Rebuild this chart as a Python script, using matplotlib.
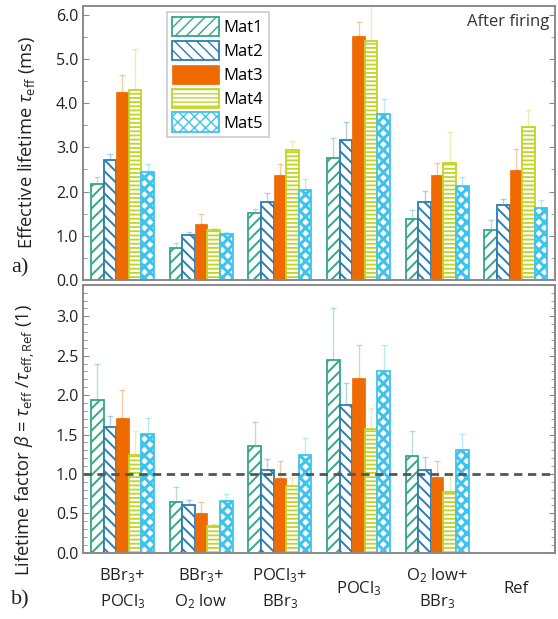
import matplotlib
matplotlib.use("Agg")
import matplotlib.pyplot as plt
import numpy as np
from matplotlib.ticker import MultipleLocator, FormatStrFormatter

plt.rcParams['font.family'] = ['Open Sans', 'DejaVu Sans']
plt.rcParams['mathtext.fontset'] = 'custom'
plt.rcParams['mathtext.rm'] = 'Open Sans'
plt.rcParams['mathtext.it'] = 'Open Sans:italic'
plt.rcParams['mathtext.bf'] = 'Open Sans:bold'

groups = ["BBr$_3$+\nPOCl$_3$", "BBr$_3$+\nO$_2$ low", "POCl$_3$+\nBBr$_3$",
          "POCl$_3$", "O$_2$ low+\nBBr$_3$", "Ref"]
materials = ["Mat1", "Mat2", "Mat3", "Mat4", "Mat5"]

# effective lifetime (ms), per material across groups
tau = {
    "Mat1": [2.18, 0.72, 1.52, 2.75, 1.37, 1.12],
    "Mat2": [2.71, 1.01, 1.77, 3.17, 1.76, 1.70],
    "Mat3": [4.26, 1.26, 2.37, 5.52, 2.38, 2.49],
    "Mat4": [4.29, 1.13, 2.94, 5.42, 2.65, 3.46],
    "Mat5": [2.44, 1.03, 2.03, 3.75, 2.13, 1.62],
}
tau_err = {
    "Mat1": [0.16, 0.11, 0.09, 0.47, 0.21, 0.23],
    "Mat2": [0.13, 0.08, 0.19, 0.40, 0.25, 0.13],
    "Mat3": [0.38, 0.23, 0.25, 0.32, 0.27, 0.47],
    "Mat4": [0.95, 0.04, 0.20, 0.90, 0.71, 0.38],
    "Mat5": [0.18, 0.06, 0.26, 0.34, 0.21, 0.19],
}
# lifetime factor beta (Ref has none)
beta = {
    "Mat1": [1.94, 0.65, 1.36, 2.45, 1.23, np.nan],
    "Mat2": [1.59, 0.60, 1.05, 1.88, 1.05, np.nan],
    "Mat3": [1.71, 0.51, 0.95, 2.22, 0.96, np.nan],
    "Mat4": [1.24, 0.34, 0.85, 1.57, 0.77, np.nan],
    "Mat5": [1.51, 0.66, 1.24, 2.30, 1.30, np.nan],
}
beta_err = {
    "Mat1": [0.45, 0.18, 0.30, 0.66, 0.32, np.nan],
    "Mat2": [0.15, 0.07, 0.14, 0.27, 0.16, np.nan],
    "Mat3": [0.35, 0.14, 0.21, 0.42, 0.21, np.nan],
    "Mat4": [0.31, 0.03, 0.10, 0.27, 0.22, np.nan],
    "Mat5": [0.20, 0.08, 0.22, 0.33, 0.21, np.nan],
}

colors = {"Mat1": "#33a888", "Mat2": "#2c7db3", "Mat3": "#ef6a00",
          "Mat4": "#bfd624", "Mat5": "#3ec3ef"}
hatches = {"Mat1": "///", "Mat2": "\\\\\\", "Mat3": None, "Mat4": "----", "Mat5": "xxx"}
hatch_lw = {"Mat1": 1.4, "Mat2": 1.4, "Mat3": 1.0, "Mat4": 1.3, "Mat5": 2.2}

fig = plt.figure(figsize=(5.58, 6.19), dpi=100)
ax1 = fig.add_axes([0.149, 0.548, 0.846, 0.442])
ax2 = fig.add_axes([0.149, 0.107, 0.846, 0.433])

x = np.arange(1, len(groups) + 1)
w = 0.16
spine_c = "#8a8a8a"

def draw(ax, vals, errs, with_label):
    for i, m in enumerate(materials):
        pos = x + (i - 2) * w
        v = np.array(vals[m], dtype=float)
        e = np.array(errs[m], dtype=float)
        with plt.rc_context({'hatch.linewidth': hatch_lw[m]}):
            if m == "Mat3":
                ax.bar(pos, v, w, color=colors[m], edgecolor=colors[m], linewidth=0.5,
                       label=m if with_label else None, zorder=2)
            else:
                ax.bar(pos, v, w, facecolor="white", edgecolor=colors[m], hatch=hatches[m],
                       linewidth=1.3, label=m if with_label else None, zorder=2)
        ax.errorbar(pos, v, yerr=[np.zeros_like(e), e], fmt="none", ecolor=colors[m],
                    alpha=0.35, elinewidth=1.0, capsize=2.5, capthick=1.0, zorder=1)

draw(ax1, tau, tau_err, True)
draw(ax2, beta, beta_err, False)

for ax in (ax1, ax2):
    ax.set_xlim(0.5, 6.5)
    for s in ax.spines.values():
        s.set_color(spine_c)
        s.set_linewidth(1.4)
    ax.tick_params(axis='y', which='both', direction='in', right=True, left=True,
                   color=spine_c, labelsize=11.5, labelcolor="#222222")
    ax.tick_params(axis='y', which='major', length=4)
    ax.tick_params(axis='y', which='minor', length=3)
    ax.tick_params(axis='x', length=0)

ax1.set_ylim(0, 6.2)
ax1.yaxis.set_major_locator(MultipleLocator(1.0))
ax1.yaxis.set_minor_locator(MultipleLocator(0.5))
ax1.yaxis.set_major_formatter(FormatStrFormatter('%.1f'))
ax1.set_xticks(x)
ax1.set_xticklabels([])

ax2.set_ylim(0, 3.4)
ax2.yaxis.set_major_locator(MultipleLocator(0.5))
ax2.yaxis.set_minor_locator(MultipleLocator(0.1))
ax2.yaxis.set_major_formatter(FormatStrFormatter('%.1f'))
ax2.set_xticks(x)
ax2.set_xticklabels(groups, fontsize=12, va='center', linespacing=1.55, color="#222222")
ax2.tick_params(axis='x', pad=26)
ax2.axhline(1.0, color="#555555", linestyle=(0, (3, 2)), linewidth=2.0, zorder=3)

ax1.set_ylabel(r"Effective lifetime $\tau_{\rm eff}$ (ms)", fontsize=13.2, color="#222222")
ax2.set_ylabel(r"Lifetime factor $\beta$ = $\tau_{\rm eff}$ /$\tau_{\rm eff,Ref}$ (1)",
               fontsize=13.2, color="#222222")
ax1.yaxis.set_label_coords(-0.098, 0.5)
ax2.yaxis.set_label_coords(-0.098, 0.42)

ax1.text(0.988, 0.97, "After firing", transform=ax1.transAxes, ha='right', va='top',
         fontsize=12, color="#333333")

fig.text(11 / 558, 1 - 268 / 619, "a)", family="Liberation Serif", fontsize=16,
         ha='left', va='center', color="#222222")
fig.text(11 / 558, 1 - 600 / 619, "b)", family="Liberation Serif", fontsize=16,
         ha='left', va='center', color="#222222")

leg = ax1.legend(loc='upper left', bbox_to_anchor=(0.178, 0.98), fontsize=12,
                 handlelength=2.8, handleheight=1.45, labelspacing=0.25,
                 handletextpad=0.3, borderpad=0.3, fancybox=False, framealpha=1,
                 borderaxespad=0)
leg.get_frame().set_edgecolor("#cccccc")
leg.get_frame().set_linewidth(1.2)

fig.savefig("out.png", dpi=100)
